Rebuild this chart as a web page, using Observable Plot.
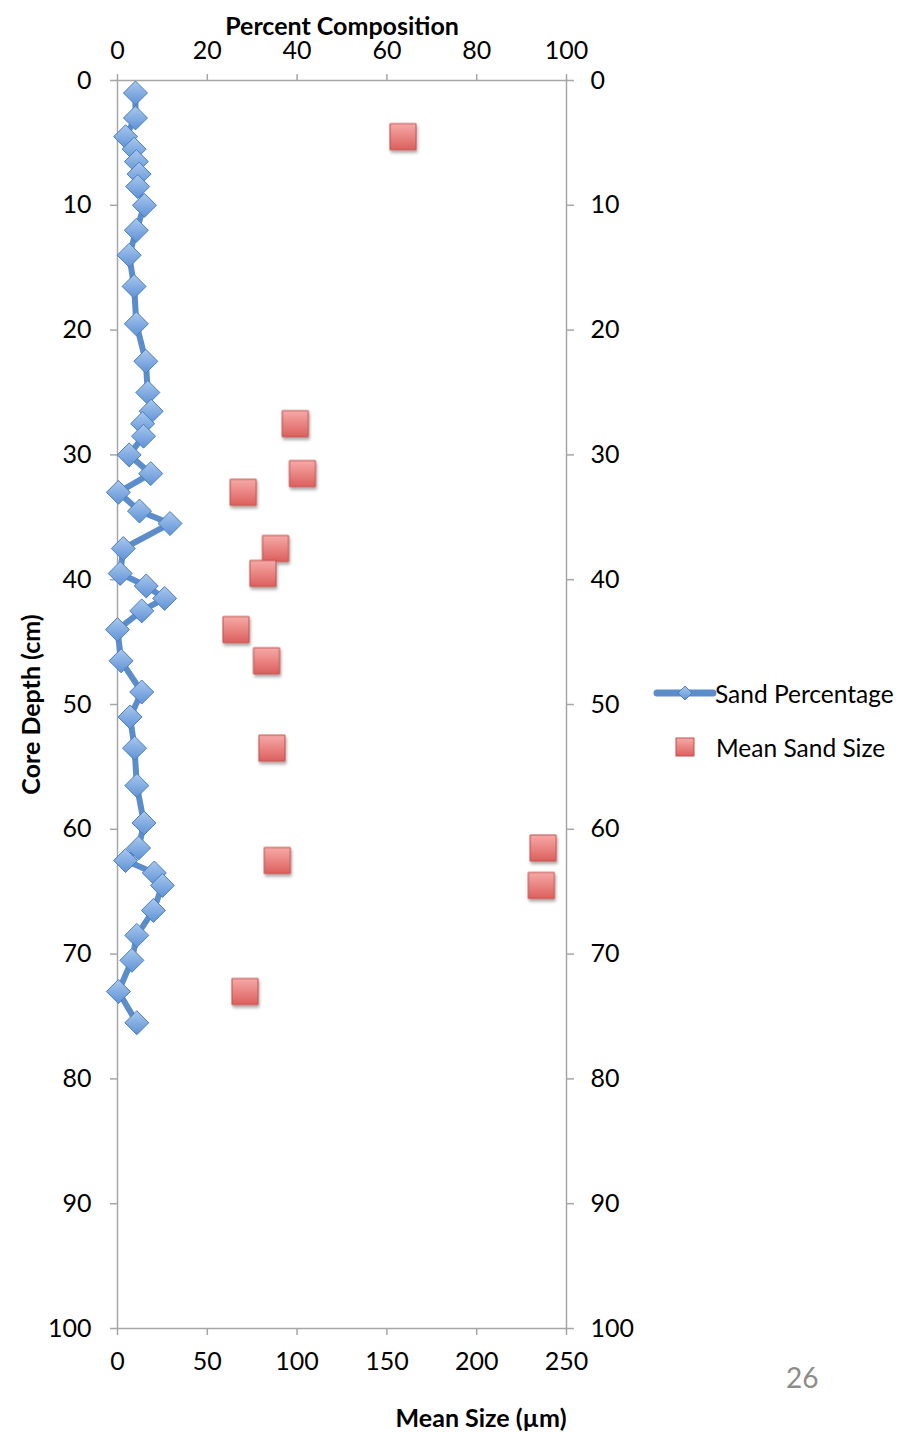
<!DOCTYPE html>
<html>
<head>
<meta charset="utf-8">
<script src="https://cdn.jsdelivr.net/npm/d3@7"></script>
<script src="https://cdn.jsdelivr.net/npm/@observablehq/plot@0.6"></script>
<style>
  body { margin: 0; background: #fff; }
  #wrap { position: relative; width: 914px; height: 1432px; font-family: Lato, "Open Sans", sans-serif; }
  #legend { position: absolute; left: 650px; top: 675px; width: 264px; height: 100px; }
  #legend .row { position: absolute; left: 0; height: 30px; display: flex; align-items: center; font-size: 24.5px; color: #000; white-space: nowrap; }
  #page { position: absolute; left: 786px; top: 1360px; font-size: 28px; color: #8c8c8c; }
</style>
</head>
<body>
<div id="wrap">
  <div id="chart"></div>
  <div id="legend">
    <div class="row" style="top:3px">
      <svg width="66" height="30" style="margin-left:2px">
        <line x1="5" y1="15" x2="61" y2="15" stroke="#5b8dcb" stroke-width="7" stroke-linecap="round"/>
        <path d="M33,8 L40,15 L33,22 L26,15 Z" fill="url(#legDiamond)" stroke="#4a7ebb" stroke-width="1"/>
        <defs>
          <linearGradient id="legDiamond" x1="0" y1="0" x2="0" y2="1">
            <stop offset="0" stop-color="#a9c8ee"/><stop offset="1" stop-color="#5f92d6"/>
          </linearGradient>
        </defs>
      </svg>
      <span style="margin-left:-3px">Sand Percentage</span>
    </div>
    <div class="row" style="top:57px">
      <svg width="66" height="30" style="margin-left:2px">
        <rect x="24" y="6" width="18" height="18" fill="url(#legSquare)" stroke="#c0504d" stroke-width="1"/>
        <defs>
          <linearGradient id="legSquare" x1="0" y1="0" x2="0" y2="1">
            <stop offset="0" stop-color="#f7aaa8"/><stop offset="1" stop-color="#dc605d"/>
          </linearGradient>
        </defs>
      </svg>
      <span style="margin-left:-2px">Mean Sand Size</span>
    </div>
  </div>
  <div id="page">26</div>
</div>
<script>
// Sand percentage down the core (depth in cm, percent sand)
const depthCm = [1, 3, 4.5, 5.5, 6.5, 7.5, 8.5, 10, 12, 14,
  16.5, 19.5, 22.5, 25, 26.5, 27.5, 28.5, 30, 31.5, 33,
  34.5, 35.5, 37.5, 39.5, 40.5, 41.5, 42.5, 44, 46.5, 49,
  51, 53.5, 56.5, 59.5, 61.5, 62.5, 63.5, 64.5, 66.5, 68.5,
  70.5, 73, 75.5];
const sandPercent = [4, 4, 1.8, 3.7, 4.2, 4.8, 4.5, 6, 4.2, 2.6,
  3.7, 4.2, 6.3, 6.75, 7.5, 5.6, 5.8, 2.6, 7.4, 0.2,
  4.9, 11.7, 1.3, 0.6, 6.4, 10.5, 5.4, 0, 0.8, 5.4,
  2.8, 3.8, 4.3, 5.9, 4.7, 1.8, 8.2, 10, 8, 4.3,
  3.2, 0.2, 4.3];

// Mean sand grain size (µm) at the sampled depths
const sizeDepthCm = [4.5, 27.5, 31.5, 33, 37.5, 39.5, 44, 46.5, 53.5, 61.5, 62.5, 64.5, 73];
const meanSizeUm = [159, 99, 103, 70, 88, 81, 66, 83, 86, 237, 89, 236, 71];

// Axis ticks
const percentTicks = [0, 20, 40, 60, 80, 100];
const sizeTicks = [0, 50, 100, 150, 200, 250];
const depthTicks = [0, 10, 20, 30, 40, 50, 60, 70, 80, 90, 100];

// The bottom (µm) axis shares the frame with the top (%) axis: 250 µm spans 100 %
const umPerPercent = 2.5;

const sand = depthCm.map((d, i) => ({depth: d, pct: sandPercent[i]}));
const sizes = sizeDepthCm.map((d, i) => ({depth: d, um: meanSizeUm[i]}));

const axisGray = "#a6a6a6";

const chart = Plot.plot({
  width: 914,
  height: 1432,
  marginLeft: 117,
  marginRight: 348,
  marginTop: 80,
  marginBottom: 104,
  style: {fontFamily: "Lato, 'Open Sans', sans-serif", fontSize: "25px", color: "#000", background: "#fff"},
  x: {domain: [0, 100]},
  y: {domain: [0, 100], reverse: true},
  marks: [
    Plot.frame({stroke: axisGray, strokeWidth: 1.5}),
    Plot.axisX({
      anchor: "top", ticks: percentTicks, tickSize: 7, tickPadding: 15,
      stroke: axisGray, fill: "#000", strokeWidth: 1.5,
      label: "Percent Composition", labelAnchor: "center", labelArrow: "none", labelOffset: 63
    }),
    Plot.axisX({
      anchor: "bottom", ticks: sizeTicks.map(v => v / umPerPercent),
      tickFormat: v => String(Math.round(v * umPerPercent)),
      tickSize: 7, tickPadding: 17,
      stroke: axisGray, fill: "#000", strokeWidth: 1.5, label: null
    }),
    Plot.text(["Mean Size (µm)"], {
      frameAnchor: "bottom-right", text: d => d, textAnchor: "end",
      dy: 98, fontWeight: "bold", fill: "#000"
    }),
    Plot.axisY({
      anchor: "left", ticks: depthTicks, tickSize: 7, tickPadding: 19,
      stroke: axisGray, fill: "#000", strokeWidth: 1.5,
      label: "Core Depth (cm)", labelAnchor: "center", labelArrow: "none", labelOffset: 95
    }),
    Plot.axisY({
      anchor: "right", ticks: depthTicks, tickSize: 7, tickPadding: 17,
      stroke: axisGray, fill: "#000", strokeWidth: 1.5, label: null
    }),
    Plot.line(sand, {
      x: "pct", y: "depth", stroke: "#5b8dcb", strokeWidth: 6,
      strokeLinejoin: "round", strokeLinecap: "round", curve: "linear"
    }),
    Plot.dot(sand, {
      x: "pct", y: "depth", symbol: "diamond2", r: 10.8,
      fill: "url(#diamondFill)", stroke: "#4a7ebb", strokeWidth: 1
    }),
    Plot.dot(sizes, {
      x: d => d.um / umPerPercent, y: "depth", symbol: "square", r: 14.7,
      fill: "url(#squareFill)", stroke: "#c0504d", strokeWidth: 1
    })
  ]
});

// Gradients and a soft shadow for the markers
const defs = d3.select(chart).insert("defs", ":first-child");
const g1 = defs.append("linearGradient").attr("id", "diamondFill")
  .attr("x1", 0).attr("y1", 0).attr("x2", 0).attr("y2", 1);
g1.append("stop").attr("offset", 0).attr("stop-color", "#a9c8ee");
g1.append("stop").attr("offset", 1).attr("stop-color", "#5f92d6");
const g2 = defs.append("linearGradient").attr("id", "squareFill")
  .attr("x1", 0).attr("y1", 0).attr("x2", 0).attr("y2", 1);
g2.append("stop").attr("offset", 0).attr("stop-color", "#f7aaa8");
g2.append("stop").attr("offset", 1).attr("stop-color", "#dc605d");
const sh = defs.append("filter").attr("id", "markShadow")
  .attr("x", "-30%").attr("y", "-30%").attr("width", "170%").attr("height", "170%");
sh.append("feDropShadow").attr("dx", 1).attr("dy", 2.5).attr("stdDeviation", 1.6)
  .attr("flood-color", "#000").attr("flood-opacity", 0.35);

// squares are the last dot group
const groups = chart.querySelectorAll("g[aria-label='dot']");
if (groups.length) groups[groups.length - 1].setAttribute("filter", "url(#markShadow)");

// bold axis titles
d3.select(chart).selectAll("g[aria-label='x-axis label'] text, g[aria-label='y-axis label'] text")
  .attr("font-weight", "bold");

document.getElementById("chart").appendChild(chart);
</script>
</body>
</html>
